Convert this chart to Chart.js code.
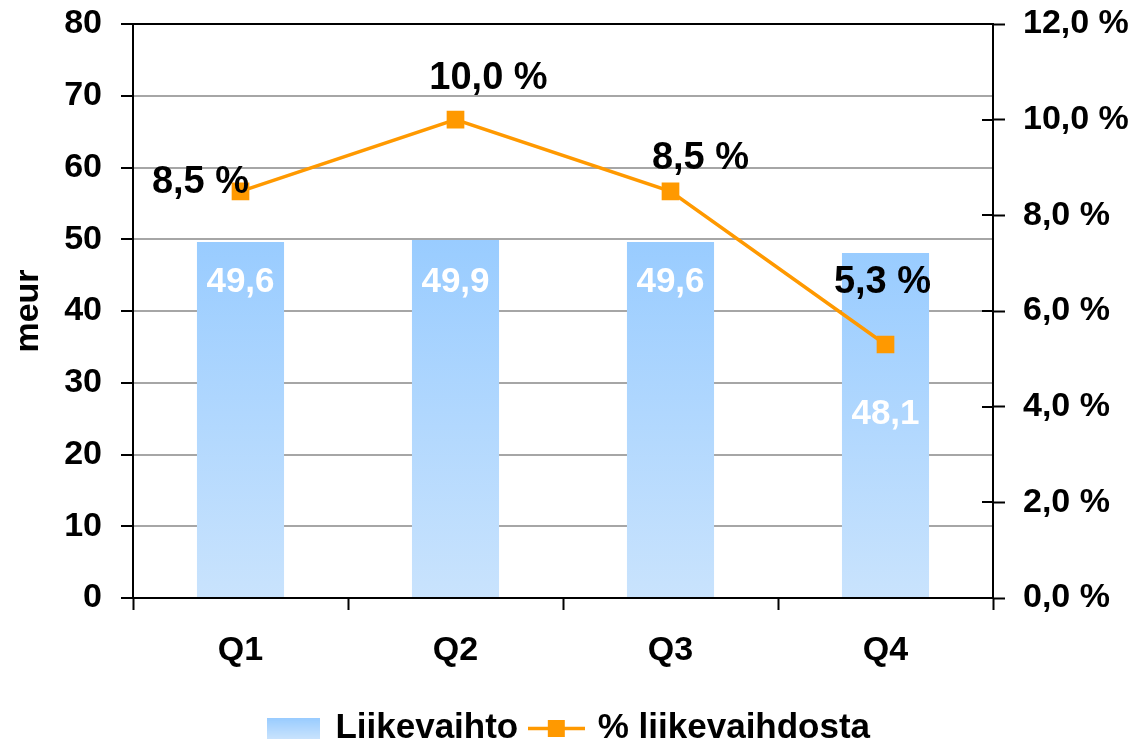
<!DOCTYPE html>
<html>
<head>
<meta charset="utf-8">
<script src="https://cdn.jsdelivr.net/npm/chart.js@4.4.0/dist/chart.umd.min.js"></script>
<style>
  html, body { margin: 0; padding: 0; background: #fff; }
</style>
</head>
<body>
<canvas id="chart" width="1140" height="747"></canvas>
<script>
const quarters = ["Q1", "Q2", "Q3", "Q4"];
const liikevaihto = [49.6, 49.9, 49.6, 48.1];
const osuusProsentti = [8.5, 10.0, 8.5, 5.3];
const meurTicks = [0, 10, 20, 30, 40, 50, 60, 70, 80];
const prosenttiTicks = [0, 2, 4, 6, 8, 10, 12];

const orange = "#ff9900";
const barTop = "#99ccff";
const barBottom = "#c9e3fd";

Chart.defaults.font.family = '"Liberation Sans", Arial, sans-serif';
Chart.defaults.font.weight = "bold";
Chart.defaults.color = "#000";

function fi(v) {
  return v.toFixed(1).replace(".", ",");
}

// legend swatches
function barSwatch() {
  const c = document.createElement("canvas");
  c.width = 53;
  c.height = 21;
  const g = c.getContext("2d");
  const grad = g.createLinearGradient(0, 0, 0, 21);
  grad.addColorStop(0, barTop);
  grad.addColorStop(1, barBottom);
  g.fillStyle = grad;
  g.fillRect(0, 0, 53, 21);
  return c;
}

function lineSwatch() {
  const c = document.createElement("canvas");
  c.width = 57;
  c.height = 21;
  const g = c.getContext("2d");
  g.strokeStyle = orange;
  g.lineWidth = 3.5;
  g.beginPath();
  g.moveTo(0, 10.5);
  g.lineTo(57, 10.5);
  g.stroke();
  g.fillStyle = orange;
  g.fillRect(20, 2, 17, 17);
  return c;
}

// label placement relative to the point / bar top
const pctOffsets = [[-40, -9], [33, -41], [30, -33], [-3, -62]];
const barOffsets = [40, 42, 40, 161];

const labelPlugin = {
  id: "labels",
  afterDatasetsDraw(chart) {
    const ctx = chart.ctx;
    const area = chart.chartArea;
    const y1 = chart.scales.y1;

    // inner half of the right axis ticks
    ctx.save();
    ctx.strokeStyle = "#000";
    ctx.lineWidth = 2;
    y1.ticks.forEach(function (t, i) {
      const y = Math.round(y1.getPixelForTick(i));
      ctx.beginPath();
      ctx.moveTo(area.right - 11, y);
      ctx.lineTo(area.right, y);
      ctx.stroke();
    });

    ctx.textAlign = "center";
    ctx.textBaseline = "middle";

    const bars = chart.getDatasetMeta(1).data;
    ctx.fillStyle = "#fff";
    ctx.font = 'bold 35px "Liberation Sans", Arial, sans-serif';
    bars.forEach(function (bar, i) {
      ctx.fillText(fi(liikevaihto[i]), bar.x, bar.y + barOffsets[i]);
    });

    const pts = chart.getDatasetMeta(0).data;
    ctx.fillStyle = "#000";
    ctx.font = 'bold 38px "Liberation Sans", Arial, sans-serif';
    pts.forEach(function (p, i) {
      ctx.fillText(fi(osuusProsentti[i]) + " %", p.x + pctOffsets[i][0], p.y + pctOffsets[i][1]);
    });
    ctx.restore();
  }
};

const ctx = document.getElementById("chart").getContext("2d");

const chartData = {
  labels: quarters,
  datasets: [
    {
      type: "line",
      label: "% liikevaihdosta",
      data: osuusProsentti,
      yAxisID: "y1",
      order: 0,
      borderColor: orange,
      backgroundColor: orange,
      borderWidth: 3.5,
      pointStyle: "rect",
      pointRadius: 12.5,
      pointHoverRadius: 12.5,
      pointBorderWidth: 0,
      tension: 0,
    },
    {
      type: "bar",
      label: "Liikevaihto",
      data: liikevaihto,
      yAxisID: "y",
      order: 1,
      barPercentage: 0.405,
      categoryPercentage: 1,
      backgroundColor: function (context) {
        const chart = context.chart;
        const area = chart.chartArea;
        if (!area || context.dataIndex === undefined) return barTop;
        const top = chart.scales.y.getPixelForValue(liikevaihto[context.dataIndex]);
        const grad = chart.ctx.createLinearGradient(0, top, 0, area.bottom);
        grad.addColorStop(0, barTop);
        grad.addColorStop(1, barBottom);
        return grad;
      },
    },
  ],
};

const chartConfig = {
  type: "bar",
  data: chartData,
  plugins: [labelPlugin],
  options: {
    responsive: false,
    animation: false,
    layout: { padding: { top: 24, left: 0, right: 0, bottom: -9 } },
    plugins: {
      tooltip: { enabled: false },
      legend: {
        position: "bottom",
        labels: {
          usePointStyle: true,
          pointStyleWidth: 48,
          padding: 14,
          color: "#000",
          font: { size: 35, weight: "bold" },
          generateLabels: function () {
            return [
              { text: "Liikevaihto", pointStyle: barSwatch(), lineWidth: 0, hidden: false, datasetIndex: 1 },
              { text: "% liikevaihdosta", pointStyle: lineSwatch(), lineWidth: 0, hidden: false, datasetIndex: 0 },
            ];
          },
        },
      },
    },
    scales: {
      x: {
        afterFit: function (scale) { scale.height = 99; },
        grid: {
          offset: true,
          drawOnChartArea: false,
          tickLength: 12,
          tickColor: "#000",
          tickWidth: 2,
        },
        border: { color: "#000", width: 2 },
        ticks: { padding: 20, font: { size: 34, weight: "bold" }, color: "#000" },
      },
      y: {
        position: "left",
        min: 0,
        max: 80,
        afterFit: function (scale) { scale.width = 133; },
        afterBuildTicks: function (scale) {
          scale.ticks = meurTicks.map(function (v) { return { value: v }; });
        },
        title: {
          display: true,
          text: "meur",
          font: { size: 34, weight: "bold" },
          color: "#000",
          padding: { top: 8, bottom: 0 },
        },
        grid: {
          color: function (c) { return c.tick && c.tick.value === 80 ? "#000" : "#a6a6a6"; },
          lineWidth: 2,
          tickLength: 12,
          tickColor: "#000",
          tickWidth: 2,
        },
        border: { color: "#000", width: 2 },
        ticks: { padding: 19, font: { size: 34, weight: "bold", lineHeight: 0.25 }, color: "#000" },
      },
      y1: {
        position: "right",
        min: 0,
        max: 12,
        afterFit: function (scale) { scale.width = 147; },
        afterBuildTicks: function (scale) {
          scale.ticks = prosenttiTicks.map(function (v) { return { value: v }; });
        },
        grid: {
          drawOnChartArea: false,
          tickLength: 12,
          tickColor: "#000",
          tickWidth: 2,
        },
        border: { color: "#000", width: 2 },
        ticks: {
          padding: 18,
          font: { size: 34, weight: "bold", lineHeight: 0.25 },
          color: "#000",
          callback: function (v) { return fi(v) + " %"; },
        },
      },
    },
  },
};

const theChart = new Chart(ctx, chartConfig);
</script>
</body>
</html>
